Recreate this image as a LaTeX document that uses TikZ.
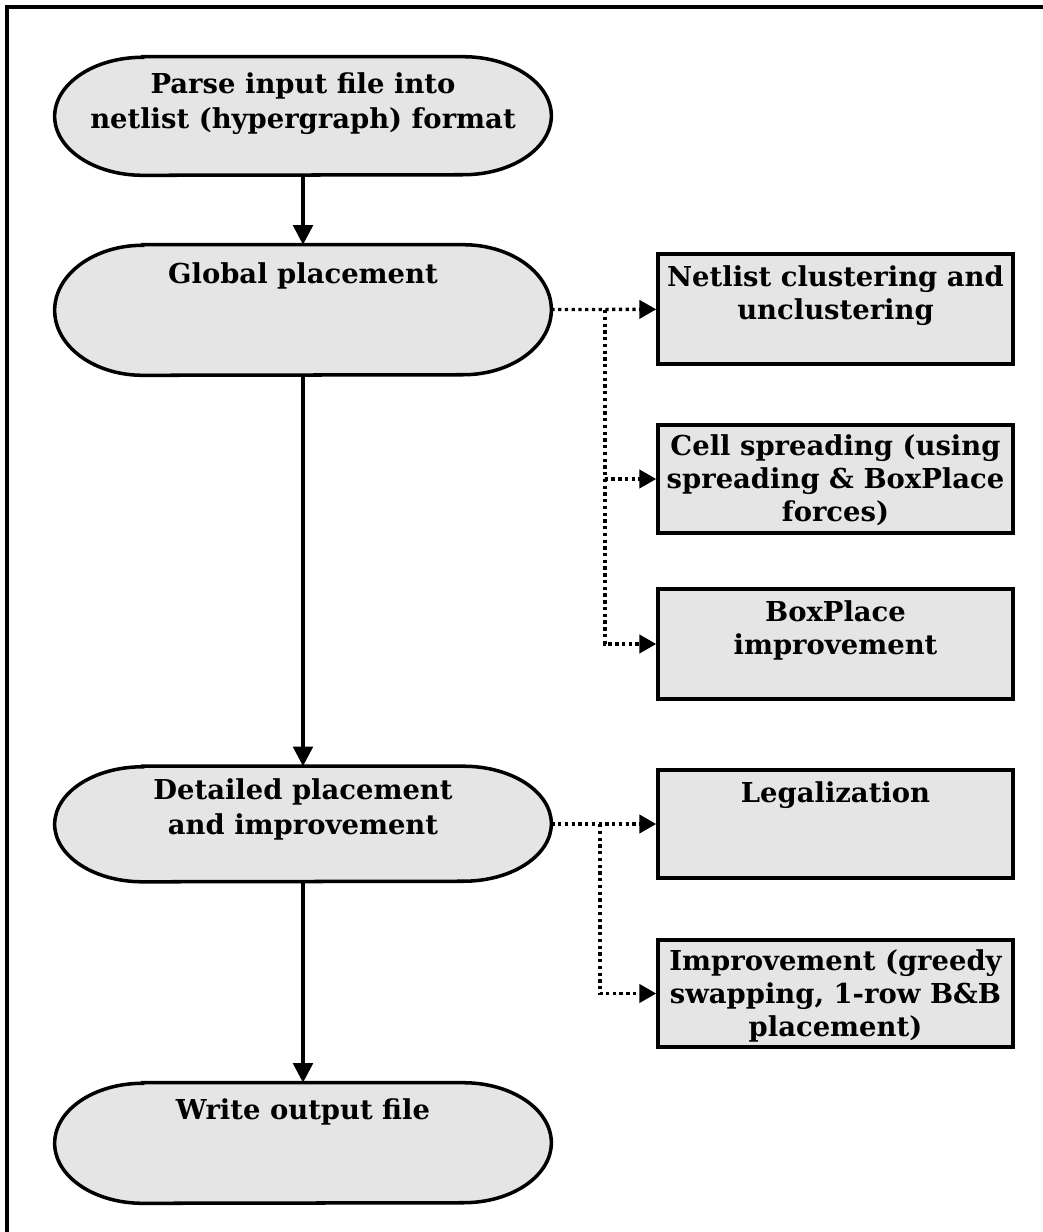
\documentclass[tikz,border=0pt]{standalone}
\usepackage{fontspec}
\setmainfont{DejaVu Serif}
\usetikzlibrary{arrows.meta}

% pill outline with flat elliptic ends round a named node
\newcommand{\pill}[2]{%
  \draw[stageline] ([xshift=2.2cm]#1.north west) -- ([xshift=-2.2cm]#1.north east)
    arc[start angle=90, end angle=-90, x radius=2.2cm, y radius=#2]
    -- ([xshift=2.2cm]#1.south west)
    arc[start angle=270, end angle=90, x radius=2.2cm, y radius=#2] -- cycle;}

\begin{document}
\begin{tikzpicture}[x=0.025cm, y=-0.025cm,
    stage/.style={rectangle, minimum width=12.4cm, inner sep=0pt},
    stageline/.style={line width=2.5pt, fill=gray!20},
    task/.style={rectangle, draw, line width=2.5pt, fill=gray!20, minimum width=8.875cm},
    stagetext/.style={anchor=north, align=center, inner sep=0pt, font=\fontsize{19.5}{25}\selectfont\bfseries},
    tasktext/.style={anchor=north, align=center, inner sep=0pt, font=\fontsize{19.5}{23.5}\selectfont\bfseries},
    flow/.style={line width=2.5pt, -{Triangle[length=14pt, width=14pt]}},
    hint/.style={line width=2.4pt, dash pattern=on 2.4pt off 2.4pt, -{Triangle[length=12pt, width=13pt]}}]
    \useasboundingbox (0,0) rectangle (1043,1232);

    % frame
    \draw[line width=2.5pt] (1043,7) -- (7,7) -- (7,1232);

    % main flow
    \node[stage, minimum height=2.95cm] (parse) at (303,116) {};
    \node[stage, minimum height=3.25cm] (global) at (303,310) {};
    \node[stage, minimum height=2.875cm] (detail) at (303,824) {};
    \node[stage, minimum height=3cm] (write) at (303,1143) {};

    \pill{parse}{1.475cm}
    \pill{global}{1.625cm}
    \pill{detail}{1.4375cm}
    \pill{write}{1.5cm}

    \node[stagetext] (parse-t) at ([yshift=-0.4cm]parse.north) {Parse input file into\\netlist (hypergraph) format};
    \node[stagetext] (global-t) at ([yshift=-0.44cm]global.north) {Global placement};
    \node[stagetext] (detail-t) at ([yshift=-0.3cm]detail.north) {Detailed placement\\and improvement};
    \node[stagetext] (write-t) at ([yshift=-0.4cm]write.north) {Write output file};

    \draw[flow] (parse) -- (global);
    \draw[flow] (global) -- (detail);
    \draw[flow] (detail) -- (write);

    % global placement steps
    \node[task, minimum height=2.75cm] (cluster) at (835.5,309) {};
    \node[task, minimum height=2.7cm] (spread) at (835.5,479) {};
    \node[task, minimum height=2.75cm] (boxplace) at (835.5,644) {};

    \node[tasktext] (cluster-t) at ([yshift=-0.33cm]cluster.north) {Netlist clustering and\\unclustering};
    \node[tasktext] (spread-t) at ([yshift=-0.28cm]spread.north) {Cell spreading (using\\spreading \& BoxPlace\\forces)};
    \node[tasktext] (boxplace-t) at ([yshift=-0.33cm]boxplace.north) {BoxPlace\\improvement};

    \coordinate (gsplit) at (605,310);
    \draw[hint] (global) -- (cluster);
    \draw[hint] (gsplit) |- (spread.west);
    \draw[hint] (gsplit) |- (boxplace.west);

    % detailed placement steps
    \node[task, minimum height=2.7cm] (legal) at (835.5,824) {};
    \node[task, minimum height=2.675cm] (improve) at (835.5,993.5) {};

    \node[tasktext] (legal-t) at ([yshift=-0.33cm]legal.north) {Legalization};
    \node[tasktext] (improve-t) at ([yshift=-0.28cm]improve.north) {Improvement (greedy\\swapping, 1-row B\&B\\placement)};

    \coordinate (dsplit) at (600,824);
    \draw[hint] (detail) -- (legal);
    \draw[hint] (dsplit) |- (improve.west);
\end{tikzpicture}
\end{document}
